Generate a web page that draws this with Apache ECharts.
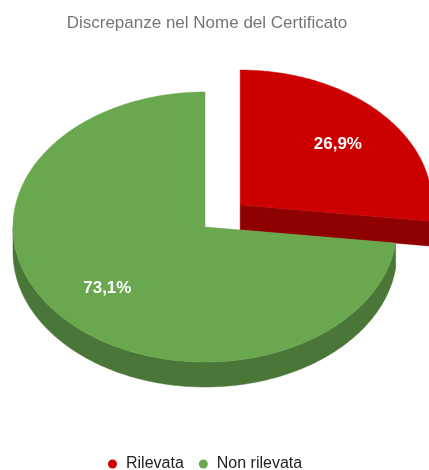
<!DOCTYPE html>
<html>
<head>
<meta charset="utf-8">
<script src="https://cdn.jsdelivr.net/npm/echarts@6/dist/echarts.min.js"></script>
<style>
  html, body { margin: 0; padding: 0; background: #ffffff; }
  #chart { width: 429px; height: 470px; }
</style>
</head>
<body>
<div id="chart"></div>
<script>
// Slice names and their shares (percent)
const categories = ['Rilevata', 'Non rilevata'];
const values = [26.9, 73.1];

// Styling per slice
const sliceColors = ['#cc0000', '#6aa84f'];
const sideColors = ['#8f0000', '#4a7638'];
const exploded = [true, false];

const FONT = '"Liberation Sans", Arial, sans-serif';

const total = values.reduce((a, b) => a + b, 0);
const starts = [];
let running = 0;
values.forEach(v => { starts.push(running); running += v; });

// Tilted-disc geometry: ellipse centre, radii, thickness, explode offset and label radius
const PIE = { cx: 205, cy: 227, rx: 192, ry: 135, depth: 25, explode: 0.245, labelR: 0.68 };

// Point on the ellipse at angle t (clockwise from 12 o'clock), at fraction r of the radius
function pt(c, t, r) {
  return [c[0] + PIE.rx * r * Math.sin(t), c[1] - PIE.ry * r * Math.cos(t)];
}

function arc(c, t0, t1, dy) {
  const pts = [];
  const n = Math.max(2, Math.ceil(Math.abs(t1 - t0) / 0.01));
  for (let i = 0; i <= n; i++) {
    const p = pt(c, t0 + (t1 - t0) * i / n, 1);
    pts.push([p[0], p[1] + dy]);
  }
  return pts;
}

function formatPct(v) {
  return (v / total * 100).toFixed(1).replace('.', ',') + '%';
}

function makeRenderer(idx) {
  return function (params, api) {
    const start = api.value(0);
    const val = api.value(1);
    const a0 = start / total * 2 * Math.PI;
    const a1 = (start + val) / total * 2 * Math.PI;
    const mid = (a0 + a1) / 2;
    let c = [PIE.cx, PIE.cy];
    if (exploded[idx]) c = pt(c, mid, PIE.explode);
    const d = PIE.depth;
    const children = [];
    const sideStyle = { fill: sideColors[idx], stroke: sideColors[idx], lineWidth: 0.5 };

    // radial cut faces that turn toward the viewer
    const faces = [];
    if (Math.sin(a0) < -1e-6) faces.push(a0);
    if (Math.sin(a1) > 1e-6) faces.push(a1);
    faces.forEach(a => {
      const p = pt(c, a, 1);
      children.push({
        type: 'polygon',
        shape: { points: [c, p, [p[0], p[1] + d], [c[0], c[1] + d]] },
        style: sideStyle
      });
    });

    // front part of the curved rim
    const s = Math.max(a0, Math.PI / 2);
    const e = Math.min(a1, Math.PI * 1.5);
    if (e > s) {
      children.push({
        type: 'polygon',
        shape: { points: arc(c, s, e, 0).concat(arc(c, e, s, d)) },
        style: sideStyle
      });
    }

    // top face
    children.push({
      type: 'polygon',
      shape: { points: [c].concat(arc(c, a0, a1, 0)) },
      style: { fill: sliceColors[idx], stroke: sliceColors[idx], lineWidth: 0.5 }
    });

    // percentage label
    const lp = pt(c, mid, PIE.labelR);
    children.push({
      type: 'text',
      x: lp[0],
      y: lp[1],
      style: {
        text: formatPct(val),
        fill: '#ffffff',
        font: 'bold 17px ' + FONT,
        align: 'center',
        verticalAlign: 'middle'
      }
    });

    return { type: 'group', children: children };
  };
}

const chart = echarts.init(document.getElementById('chart'), null, { renderer: 'canvas' });

chart.setOption({
  animation: false,
  backgroundColor: '#ffffff',
  title: {
    text: 'Discrepanze nel Nome del Certificato',
    left: 202,
    top: 10,
    textAlign: 'center',
    textStyle: { color: '#757575', fontSize: 17, fontWeight: 'normal', fontFamily: FONT }
  },
  legend: {
    data: categories,
    left: 103,
    top: 451,
    icon: 'circle',
    itemWidth: 9,
    itemHeight: 9,
    itemGap: 15,
    textStyle: { color: '#222222', fontSize: 16, fontFamily: FONT, padding: [0, 0, 0, 4] }
  },
  series: categories.map((name, i) => ({
    type: 'custom',
    name: name,
    coordinateSystem: 'none',
    itemStyle: { color: sliceColors[i] },
    silent: true,
    renderItem: makeRenderer(i),
    data: [[starts[i], values[i]]]
  }))
});
</script>
</body>
</html>
